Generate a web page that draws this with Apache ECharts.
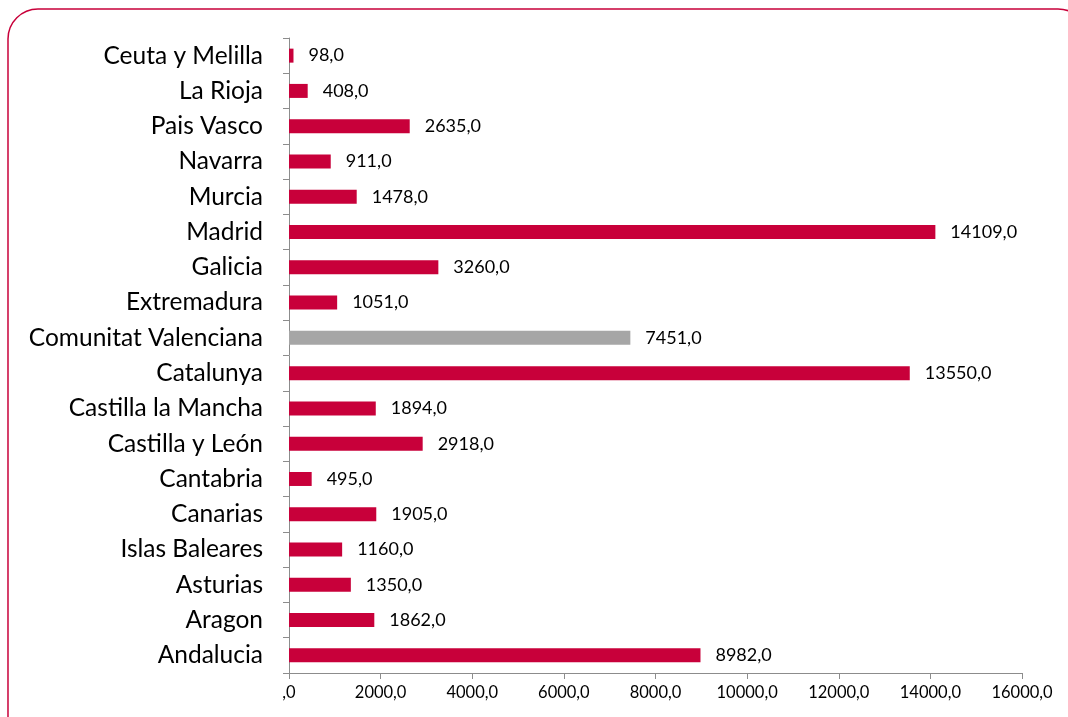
<!DOCTYPE html>
<html lang="es">
  <head>
    <meta charset="UTF-8" />
    <title>Comunidades</title>
    <script src="https://cdn.jsdelivr.net/npm/echarts@6.0.0/dist/echarts.min.js"></script>
    <style>
      body { margin: 0; background: #fff; }
    </style>
  </head>
  <body>
    <div id="main" style="width: 1068px; height: 717px"></div>
    <script type="text/javascript">
      // bottom to top, as on the category axis
      const regions = [
        'Andalucia', 'Aragon', 'Asturias', 'Islas Baleares', 'Canarias',
        'Cantabria', 'Castilla y León', 'Castilla la Mancha', 'Catalunya',
        'Comunitat Valenciana', 'Extremadura', 'Galicia', 'Madrid', 'Murcia',
        'Navarra', 'Pais Vasco', 'La Rioja', 'Ceuta y Melilla'
      ];
      const values = [
        8982, 1862, 1350, 1160, 1905, 495, 2918, 1894, 13550,
        7451, 1051, 3260, 14109, 1478, 911, 2635, 408, 98
      ];
      const highlighted = 'Comunitat Valenciana';

      const red = '#C8003A';
      const grey = '#A6A6A6';
      const font = 'Lato';

      // spanish style number: 1234,0 and ",0" for zero
      function fmt(v) {
        if (v === 0) return ',0';
        return v.toFixed(1).replace('.', ',');
      }

      let myChart = echarts.init(document.getElementById('main'));

      let options = {
        animation: false,
        graphic: [
          {
            type: 'rect',
            shape: { x: 8, y: 9, width: 1080, height: 740, r: 30 },
            style: { fill: 'none', stroke: red, lineWidth: 1.5 },
            silent: true
          }
        ],
        grid: { left: 289, right: 46, top: 38, bottom: 44 },
        xAxis: {
          type: 'value',
          min: 0,
          max: 16000,
          interval: 2000,
          splitLine: { show: false },
          axisLine: { show: true, lineStyle: { color: '#8C8C8C' } },
          axisTick: { show: true, length: 6, lineStyle: { color: '#8C8C8C' } },
          axisLabel: {
            color: '#000',
            fontFamily: font,
            fontSize: 16.5,
            margin: 11,
            formatter: fmt
          }
        },
        yAxis: {
          type: 'category',
          data: regions,
          axisLine: { lineStyle: { color: '#8C8C8C' } },
          axisTick: { show: true, length: 6, lineStyle: { color: '#8C8C8C' } },
          axisLabel: {
            color: '#000',
            fontFamily: font,
            fontSize: 24.5,
            margin: 26
          }
        },
        series: [
          {
            type: 'bar',
            barWidth: 14,
            data: values.map((v, i) => ({
              value: v,
              itemStyle: { color: regions[i] === highlighted ? grey : red }
            })),
            label: {
              show: true,
              position: 'right',
              distance: 15,
              color: '#000',
              fontFamily: font,
              fontSize: 18,
              formatter: (p) => fmt(p.value)
            }
          }
        ]
      };

      myChart.setOption(options);
    </script>
  </body>
</html>
